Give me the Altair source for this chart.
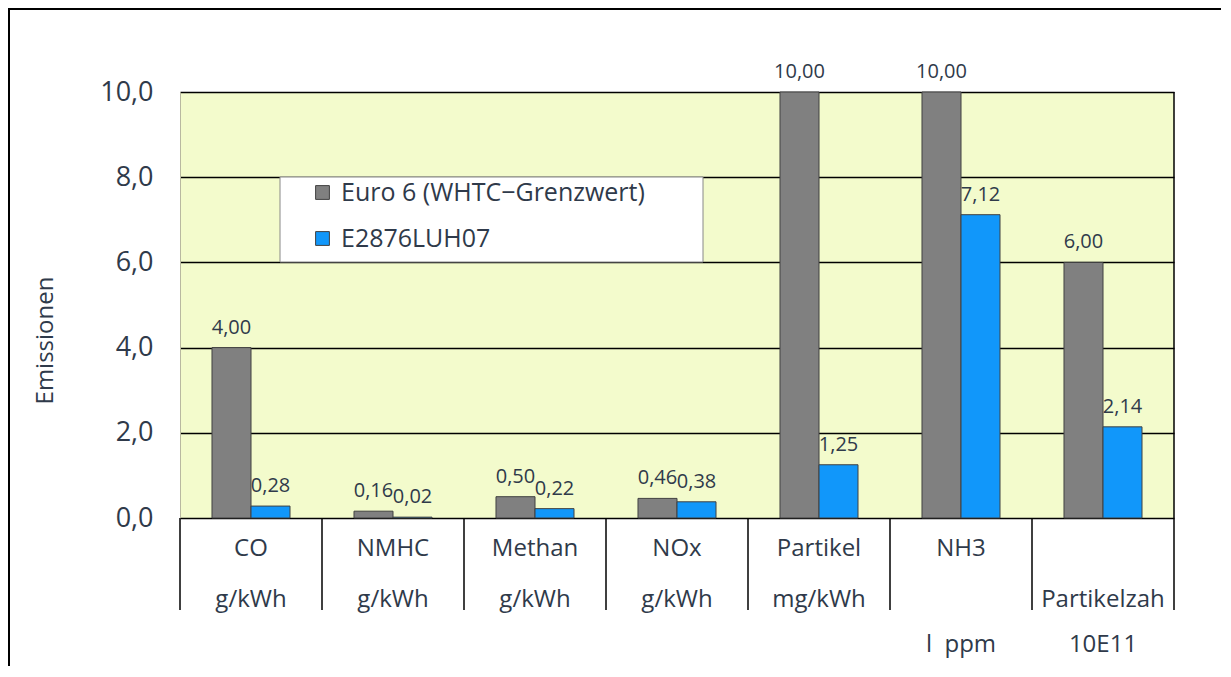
import altair as alt
import pandas as pd

# ---- data ----
categories = ["CO", "NMHC", "Methan", "NOx", "Partikel", "NH3", "Partikelzah"]
series = ["Euro 6 (WHTC\u2212Grenzwert)", "E2876LUH07"]
euro6 = [4.00, 0.16, 0.50, 0.46, 10.00, 10.00, 6.00]
e2876 = [0.28, 0.02, 0.22, 0.38, 1.25, 7.12, 2.14]
y_ticks = [0, 2, 4, 6, 8, 10]

label_cat = ["CO", "CO", "NMHC", "NMHC", "Methan", "Methan", "NOx", "NOx",
             "Partikel", "Partikel", "NH3", "NH3", "Partikelzah", "Partikelzah"]
label_line = [0, 1, 0, 1, 0, 1, 0, 1, 0, 1, 0, 2, 1, 2]
label_text = ["CO", "g/kWh", "NMHC", "g/kWh", "Methan", "g/kWh", "NOx", "g/kWh",
              "Partikel", "mg/kWh", "NH3", "l\u00a0\u00a0ppm", "Partikelzah", "10E11"]

rows = []
for i, c in enumerate(categories):
    rows.append({"cat": c, "series": series[0], "value": euro6[i]})
    rows.append({"cat": c, "series": series[1], "value": e2876[i]})
df = pd.DataFrame(rows)
labels_df = pd.DataFrame({"cat": label_cat, "line": label_line, "text": label_text})
cats_df = pd.DataFrame({"cat": categories})

# ---- style ----
W, H = 994, 426
TXT = "#2f3a4a"
FONT = "Open Sans"
GRAY = "#808080"
BLUE = "#1197fa"

xscale = alt.Scale(domain=categories, paddingInner=0, paddingOuter=0)
xoff = alt.XOffset("series:N", scale=alt.Scale(domain=series, paddingInner=0, paddingOuter=0.82))
yscale = alt.Scale(domain=[0, 10], nice=False)

base = alt.Chart(df)

bars = base.mark_bar(stroke="#404040", strokeWidth=1).encode(
    x=alt.X("cat:N", scale=xscale, axis=None, sort=categories),
    xOffset=xoff,
    y=alt.Y("value:Q", scale=yscale,
            axis=alt.Axis(values=y_ticks, grid=True, gridColor="black", gridWidth=1.3,
                          gridOpacity=1, ticks=False, domain=True, domainColor="#b8b8a0",
                          labelExpr="replace(format(datum.value,'.1f'),'.',',')",
                          labelFontSize=27, labelColor=TXT, labelFont=FONT, labelPadding=27,
                          title="Emissionen", titleFontSize=24, titleFont=FONT,
                          titleColor=TXT, titleFontWeight="normal",
                          titleX=-135, titleY=340 - 92, titleAngle=-90,
                          titleAlign="center", titleBaseline="middle")),
    color=alt.Color("series:N", scale=alt.Scale(domain=series, range=[GRAY, BLUE]),
                    legend=alt.Legend(title=None, orient="none", legendX=130, legendY=88,
                                      symbolType="square", symbolSize=190,
                                      symbolStrokeColor="#404040", symbolStrokeWidth=1,
                                      labelFontSize=25, labelFont=FONT, labelColor=TXT,
                                      labelOffset=6, rowPadding=20, labelLimit=450,
                                      padding=0)),
)

values = base.transform_calculate(
    lbl="replace(format(datum.value,'.2f'),'.',',')"
).mark_text(baseline="middle", dy=-20, fontSize=20, font=FONT, color=TXT).encode(
    x=alt.X("cat:N", scale=xscale, sort=categories),
    xOffset=xoff,
    y=alt.Y("value:Q", scale=yscale),
    text="lbl:N",
)

legend_box = alt.Chart(pd.DataFrame({"k": [0]})).mark_rect(
    fill="white", stroke="#888888", strokeWidth=1
).encode(x=alt.value(100), x2=alt.value(523), y=alt.value(85), y2=alt.value(170))

separators = alt.Chart(cats_df).mark_rule(color="black", strokeWidth=1.5).encode(
    x=alt.X("cat:N", scale=xscale, sort=categories, bandPosition=0),
    y=alt.value(H), y2=alt.value(H + 92),
)
right_edge = alt.Chart(pd.DataFrame({"k": [0]})).mark_rule(color="black", strokeWidth=1.5).encode(
    x=alt.value(W), y=alt.value(0), y2=alt.value(H + 92)
)
frame_top = alt.Chart(pd.DataFrame({"k": [0]})).mark_rule(color="black", strokeWidth=2).encode(
    x=alt.value(-172), x2=alt.value(W + 60), y=alt.value(-83)
)
frame_left = alt.Chart(pd.DataFrame({"k": [0]})).mark_rule(color="black", strokeWidth=2).encode(
    x=alt.value(-171), y=alt.value(-83), y2=alt.value(H + 200)
)

line_y = [H + 31, H + 82, H + 127]
cat_labels = []
for k, yy in enumerate(line_y):
    cat_labels.append(
        alt.Chart(labels_df).transform_filter(alt.datum.line == k).mark_text(
            baseline="middle", fontSize=24, font=FONT, color=TXT
        ).encode(x=alt.X("cat:N", scale=xscale, sort=categories), y=alt.value(yy), text="text:N")
    )

chart = alt.layer(
    bars, values, legend_box, separators, right_edge, frame_top, frame_left, *cat_labels
).properties(
    width=W, height=H,
    autosize=alt.AutoSizeParams(type="none"),
    padding={"left": 172, "top": 84, "right": 47, "bottom": 148},
    background="white",
).configure_view(fill="#f3fbcc", stroke=None)

chart.save("out.html", embed_options={"renderer": "svg", "actions": False})
